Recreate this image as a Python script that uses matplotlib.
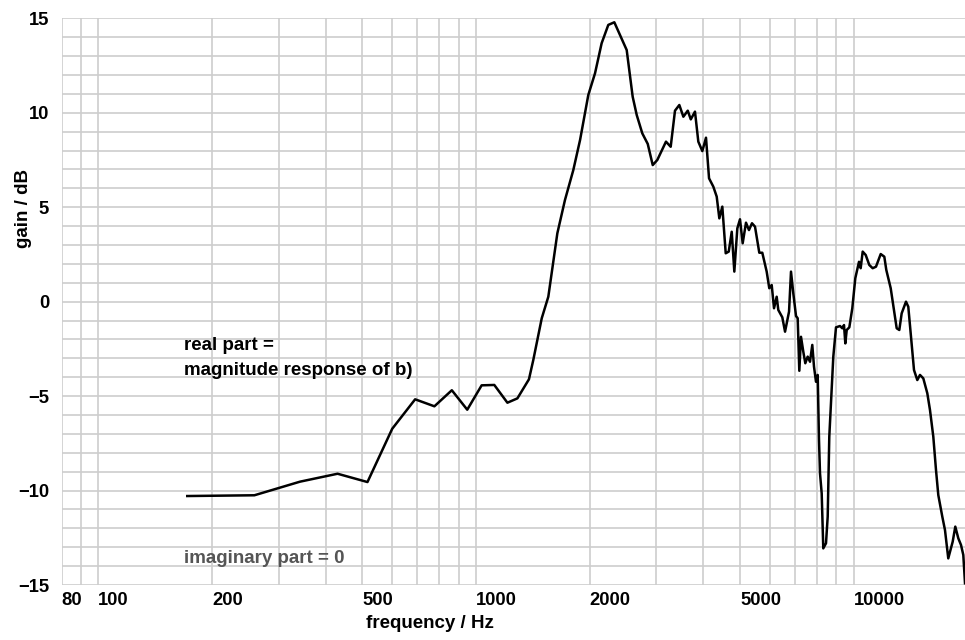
import matplotlib
matplotlib.use("Agg")
import matplotlib.pyplot as plt
from matplotlib.ticker import FixedLocator, NullFormatter, NullLocator

plt.rcParams.update({
    "font.family": ["Liberation Sans", "DejaVu Sans"],
    "font.weight": "bold",
    "font.size": 13,
})

# --- Data ---
freq_hz = [
    172, 259, 342, 430, 516, 600, 690, 776, 863, 948,
    1035, 1118, 1211, 1287, 1381, 1418, 1493, 1554, 1642, 1720,
    1810, 1886, 1983, 2066, 2151, 2240, 2324, 2506, 2599, 2664,
    2756, 2849, 2937, 3020, 3184, 3277, 3364, 3454, 3540, 3636,
    3704, 3800, 3878, 3974, 4064, 4140, 4249, 4338, 4408, 4489,
    4583, 4668, 4754, 4830, 4919, 5000, 5082, 5186, 5281, 5379,
    5479, 5624, 5728, 5883, 5977, 6066, 6152, 6253, 6315, 6471,
    6580, 6742, 6823, 6920, 7035, 7107, 7178, 7252, 7355, 7445,
    7554, 7661, 7769, 7850, 7946, 8029, 8093, 8143, 8227, 8307,
    8446, 8534, 8617, 8744, 8831, 8977, 9199, 9329, 9426, 9502,
    9583, 9737, 9915, 10098, 10328, 10435, 10563, 10759, 10998, 11227,
    11455, 11790, 12052, 12198, 12531, 12865, 12996, 13205, 13397, 13754,
    13949, 14180, 14443, 14736, 14979, 15285, 15663, 15922, 16247, 16515,
    16749, 17162, 17445, 17798, 18283, 18577, 18923, 19235, 19507, 19710,
]
gain_db = [
    -10.29, -10.25, -9.53, -9.11, -9.55, -6.73, -5.17, -5.54, -4.69, -5.72,
    -4.43, -4.41, -5.35, -5.12, -4.11, -3.09, -0.88, 0.26, 3.62, 5.38,
    6.97, 8.56, 10.94, 12.09, 13.68, 14.65, 14.79, 13.32, 10.85, 9.88,
    8.91, 8.35, 7.23, 7.50, 8.47, 8.20, 10.11, 10.41, 9.79, 10.11,
    9.65, 10.06, 8.47, 7.97, 8.68, 6.53, 6.09, 5.56, 4.41, 5.03,
    2.56, 2.65, 3.70, 1.59, 3.88, 4.36, 3.09, 4.18, 3.79, 4.15,
    3.97, 2.59, 2.59, 1.59, 0.71, 0.88, -0.35, 0.26, -0.44, -0.83,
    -1.59, -0.53, 1.59, 0.44, -0.76, -0.88, -3.66, -1.86, -2.65, -3.26,
    -2.91, -3.18, -2.29, -3.44, -4.24, -3.88, -7.32, -9.09, -10.15, -13.06,
    -12.79, -11.38, -7.15, -4.68, -2.91, -1.36, -1.29, -1.41, -1.24, -2.21,
    -1.50, -1.36, -0.35, 1.24, 2.11, 1.77, 2.65, 2.47, 1.94, 1.77,
    1.85, 2.52, 2.38, 1.68, 0.71, -0.80, -1.41, -1.50, -0.62, 0.0,
    -0.27, -1.86, -3.62, -4.15, -3.88, -4.06, -4.85, -5.74, -7.15, -8.91,
    -10.24, -11.38, -12.09, -13.59, -12.71, -11.91, -12.53, -12.88, -13.41, -14.91,
]

x_ticks = [80, 100, 200, 500, 1000, 2000, 5000, 10000]
x_tick_labels = ["80", "100", "200", "500", "1000", "2000", "5000", "10000"]
y_ticks = [-15, -10, -5, 0, 5, 10, 15]
y_tick_labels = ["\u221215", "\u221210", "\u22125", "0", "5", "10", "15"]

# grid: every multiple 1..9 of each decade, every 1 dB
x_grid = [m * d for d in (10, 100, 1000, 10000) for m in range(1, 10)]
x_grid = [v for v in x_grid if 80 <= v <= 20000]
y_grid = list(range(-15, 16))

# --- Plotting ---
W, H = 965, 640
fig = plt.figure(figsize=(W / 100, H / 100), dpi=100)
ax = fig.add_axes([61.7 / W, 55 / H, (967.4 - 61.7) / W, (585 - 18.3) / H])

ax.set_xscale("log")
ax.set_xlim(80, 20000)
ax.set_ylim(-15, 15)

grid_color = "#cdcdcd"
for v in x_grid:
    ax.axvline(v, color=grid_color, lw=1.2, zorder=0)
for v in y_grid:
    ax.axhline(v, color=grid_color, lw=1.2, zorder=0)

ax.plot(freq_hz, gain_db, color="black", lw=1.8, zorder=3)

for side in ("top", "right", "left", "bottom"):
    ax.spines[side].set_visible(False)

ax.xaxis.set_major_locator(FixedLocator(x_ticks))
ax.xaxis.set_minor_locator(NullLocator())
ax.xaxis.set_minor_formatter(NullFormatter())
ax.set_xticklabels(x_tick_labels, ha="left")
ax.set_yticks(y_ticks)
ax.set_yticklabels(y_tick_labels)
ax.tick_params(axis="both", length=0, labelsize=13.2)
ax.tick_params(axis="x", pad=5)
ax.tick_params(axis="y", pad=9)

label_size = 13.5
ax.text(168.6, -2.56, "real part =", ha="left", va="baseline", fontsize=label_size, color="black")
ax.text(168.6, -3.88, "magnitude response of b)", ha="left", va="baseline", fontsize=label_size, color="black")
ax.text(168.6, -13.85, "imaginary part = 0", ha="left", va="baseline", fontsize=label_size, color="#555555")

fig.text(24 / W, 1 - 208 / H, "gain / dB", rotation=90, ha="center", va="center", fontsize=label_size)
fig.text(430 / W, 1 - 623 / H, "frequency / Hz", ha="center", va="center", fontsize=label_size)

fig.savefig("out.png", dpi=100)
